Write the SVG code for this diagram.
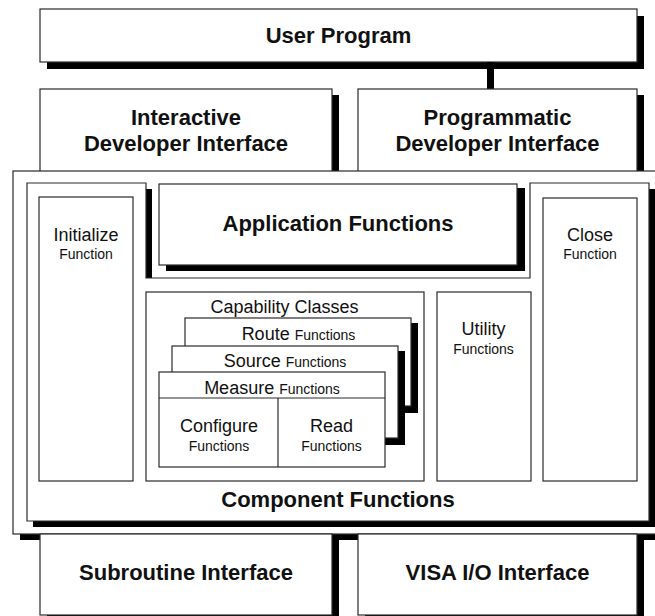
<svg xmlns="http://www.w3.org/2000/svg" width="655" height="616" viewBox="0 0 655 616">
  <style>
    .box { fill: #ffffff; stroke: #2a2a2a; stroke-width: 1.2; }
    .shadow { fill: #000000; stroke: none; }
    .title { font-family: "Liberation Sans", Arial, sans-serif; font-weight: bold; font-size: 22px; fill: #111; text-anchor: middle; }
    .label { font-family: "Liberation Sans", Arial, sans-serif; font-size: 18px; fill: #111; text-anchor: middle; }
    .small { font-family: "Liberation Sans", Arial, sans-serif; font-size: 14px; fill: #111; }
    .sub { font-family: "Liberation Sans", Arial, sans-serif; font-size: 14px; fill: #111; text-anchor: middle; }
  </style>
  <rect x="0" y="0" width="655" height="616" fill="#ffffff"/>

  <!-- top layer: user program -->
  <g id="user-program">
    <rect class="shadow" x="47" y="16" width="597" height="53"/>
    <rect class="box" x="40" y="9" width="597" height="53"/>
    <text class="title" x="338.5" y="43">User Program</text>
  </g>

  <!-- links between layers -->
  <g id="connectors">
    <rect class="shadow" x="487" y="62" width="7" height="27"/>
  </g>

  <g id="interactive-developer-interface">
    <rect class="shadow" x="47" y="95" width="292" height="100"/>
    <rect class="box" x="40" y="89" width="292" height="100"/>
    <text class="title" x="186" y="125">Interactive</text>
    <text class="title" x="186" y="151">Developer Interface</text>
  </g>

  <g id="programmatic-developer-interface">
    <rect class="shadow" x="365" y="95" width="279" height="100"/>
    <rect class="box" x="358" y="89" width="279" height="100"/>
    <text class="title" x="497.5" y="125">Programmatic</text>
    <text class="title" x="497.5" y="151">Developer Interface</text>
  </g>

  <!-- outer frame around the component layer -->
  <g id="outer-frame">
    <rect class="shadow" x="20" y="177" width="660" height="363"/>
    <rect class="box" x="13" y="171" width="660" height="363"/>
  </g>

  <g id="component-functions">
    <polygon class="shadow" points="33,189 152,189 152,284 536,284 536,189 655,189 655,527 33,527"/>
    <polygon class="box" points="27,183 146,183 146,278 530,278 530,183 649,183 649,521 27,521"/>
    <text class="title" x="338" y="506.5">Component Functions</text>
  </g>

  <g id="application-functions">
    <rect class="shadow" x="166" y="188" width="359" height="83"/>
    <rect class="box" x="159" y="184" width="358" height="81"/>
    <text class="title" x="338" y="231">Application Functions</text>
  </g>

  <g id="initialize-function">
    <rect class="box" x="39" y="197" width="94" height="284"/>
    <text class="label" x="86" y="241">Initialize</text>
    <text class="sub" x="86" y="259">Function</text>
  </g>

  <g id="close-function">
    <rect class="box" x="543" y="198" width="94" height="283"/>
    <text class="label" x="590" y="241">Close</text>
    <text class="sub" x="590" y="259">Function</text>
  </g>

  <g id="utility-functions">
    <rect class="box" x="437" y="292" width="94" height="189"/>
    <text class="label" x="483.5" y="335">Utility</text>
    <text class="sub" x="483.5" y="354">Functions</text>
  </g>

  <g id="capability-classes">
    <rect class="box" x="146" y="292" width="278" height="189"/>
    <text class="label" x="284.5" y="313">Capability Classes</text>
  </g>

  <g id="route-functions">
    <rect class="shadow" x="192" y="323" width="226" height="90"/>
    <rect class="box" x="185" y="318" width="226" height="88"/>
    <text class="label" x="298.5" y="340">Route <tspan class="small">Functions</tspan></text>
  </g>

  <g id="source-functions">
    <rect class="shadow" x="179" y="351" width="226" height="94"/>
    <rect class="box" x="172" y="346" width="226" height="92"/>
    <text class="label" x="285" y="367">Source <tspan class="small">Functions</tspan></text>
  </g>

  <g id="measure-functions">
    <rect class="box" x="159" y="372" width="226" height="95"/>
    <line class="box" x1="159" y1="398" x2="385" y2="398"/>
    <line class="box" x1="278" y1="398" x2="278" y2="467"/>
    <text class="label" x="272" y="394">Measure <tspan class="small">Functions</tspan></text>
  </g>

  <g id="configure-functions">
    <text class="label" x="219" y="432">Configure</text>
    <text class="sub" x="219" y="451">Functions</text>
  </g>

  <g id="read-functions">
    <text class="label" x="331.5" y="432">Read</text>
    <text class="sub" x="331.5" y="451">Functions</text>
  </g>

  <!-- bottom layer -->
  <g id="subroutine-interface">
    <rect class="shadow" x="47" y="540" width="292" height="90"/>
    <rect class="box" x="40" y="534" width="292" height="81"/>
    <text class="title" x="186" y="580">Subroutine Interface</text>
  </g>

  <g id="visa-io-interface">
    <rect class="shadow" x="365" y="540" width="279" height="90"/>
    <rect class="box" x="358" y="534" width="279" height="81"/>
    <text class="title" x="497.5" y="580">VISA I/O Interface</text>
  </g>
</svg>
